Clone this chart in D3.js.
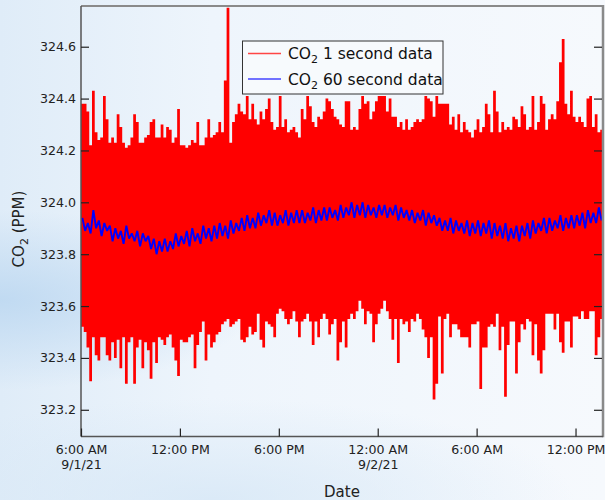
<!DOCTYPE html>
<html><head><meta charset="utf-8">
<script src="https://cdn.jsdelivr.net/npm/d3@7"></script>
<style>html,body{margin:0;padding:0;}svg{display:block;}</style>
</head><body>
<script>
// ---- data (10-minute bins from 6:00 AM 9/1/21) ----
const startTime = new Date(2021, 8, 1, 6, 0);
const endTime = new Date(2021, 8, 2, 13, 40);
const binMinutes = 10;
// max of 1-second data in each bin
const oneSecMax = [
324.38,324.38,324.35,324.22,324.43,324.27,324.24,324.25,324.41,324.32,
324.23,324.25,324.23,324.34,324.29,324.23,324.21,324.22,324.25,324.34,
324.31,324.23,324.23,324.25,324.26,324.31,324.32,324.25,324.25,324.30,
324.25,324.29,324.28,324.23,324.25,324.36,324.22,324.22,324.21,324.22,
324.24,324.23,324.31,324.22,324.22,324.25,324.32,324.25,324.26,324.27,
324.31,324.27,324.47,324.75,324.23,324.31,324.34,324.38,324.35,324.34,
324.41,324.32,324.38,324.32,324.30,324.35,324.32,324.36,324.40,324.31,
324.28,324.29,324.41,324.29,324.32,324.27,324.28,324.29,324.27,324.25,
324.36,324.32,324.41,324.37,324.31,324.29,324.33,324.32,324.35,324.40,
324.39,324.36,324.33,324.32,324.30,324.29,324.39,324.39,324.28,324.29,
324.28,324.36,324.41,324.38,324.39,324.32,324.35,324.39,324.41,324.41,
324.41,324.35,324.40,324.33,324.33,324.29,324.31,324.28,324.32,324.28,
324.29,324.31,324.32,324.31,324.32,324.41,324.40,324.39,324.33,324.41,
324.38,324.38,324.38,324.38,324.30,324.33,324.28,324.34,324.27,324.31,
324.28,324.27,324.25,324.28,324.32,324.27,324.29,324.38,324.34,324.27,
324.43,324.35,324.27,324.31,324.28,324.29,324.28,324.33,324.32,324.29,
324.37,324.34,324.28,324.29,324.41,324.28,324.31,324.41,324.38,324.28,
324.32,324.34,324.32,324.39,324.54,324.63,324.38,324.34,324.43,324.33,
324.31,324.33,324.31,324.29,324.40,324.41,324.29,324.34,324.27,324.28];
// min of 1-second data in each bin
const oneSecMin = [
323.52,323.50,323.44,323.31,323.48,323.41,323.39,323.48,323.48,323.41,
323.39,323.46,323.40,323.47,323.36,323.48,323.30,323.46,323.48,323.30,
323.44,323.47,323.36,323.46,323.43,323.32,323.46,323.38,323.48,323.47,
323.45,323.48,323.49,323.44,323.39,323.33,323.47,323.46,323.46,323.48,
323.49,323.36,323.45,323.50,323.54,323.39,323.49,323.44,323.46,323.49,
323.50,323.53,323.54,323.55,323.52,323.53,323.54,323.55,323.47,323.46,
323.48,323.52,323.49,323.50,323.57,323.47,323.44,323.54,323.53,323.52,
323.48,323.57,323.59,323.58,323.55,323.53,323.55,323.58,323.54,323.48,
323.54,323.55,323.57,323.54,323.45,323.54,323.48,323.55,323.57,323.55,
323.49,323.53,323.55,323.39,323.46,323.54,323.44,323.55,323.57,323.55,
323.58,323.62,323.59,323.53,323.58,323.57,323.46,323.53,323.57,323.59,
323.62,323.58,323.55,323.47,323.55,323.38,323.55,323.53,323.54,323.50,
323.55,323.54,323.57,323.55,323.51,323.48,323.40,323.48,323.24,323.30,
323.56,323.34,323.55,323.57,323.48,323.53,323.53,323.51,323.48,323.48,
323.48,323.44,323.53,323.53,323.54,323.28,323.44,323.44,323.52,323.53,
323.52,323.57,323.43,323.52,323.25,323.45,323.54,323.54,323.34,323.46,
323.53,323.51,323.55,323.54,323.41,323.53,323.39,323.34,323.43,323.57,
323.57,323.57,323.51,323.57,323.46,323.42,323.54,323.54,323.44,323.56,
323.56,323.55,323.58,323.55,323.55,323.58,323.58,323.41,323.48,323.55];
// 60-second data, sampled per bin
const sixtySec = [
323.94,323.89,323.92,323.88,323.97,323.90,323.93,323.87,323.92,323.89,
323.91,323.85,323.90,323.86,323.89,323.84,323.91,323.86,323.88,323.85,
323.89,323.83,323.88,323.85,323.87,323.82,323.86,323.80,323.85,323.81,
323.86,323.81,323.85,323.82,323.88,323.83,323.87,323.84,323.89,323.83,
323.90,323.85,323.88,323.84,323.91,323.86,323.90,323.85,323.91,323.86,
323.92,323.87,323.91,323.86,323.93,323.88,323.92,323.89,323.94,323.89,
323.95,323.90,323.94,323.90,323.96,323.91,323.95,323.92,323.97,323.91,
323.96,323.91,323.95,323.92,323.97,323.91,323.96,323.92,323.97,323.92,
323.97,323.92,323.96,323.93,323.98,323.92,323.97,323.93,323.98,323.93,
323.98,323.94,323.97,323.93,323.99,323.94,323.98,323.95,324.00,323.94,
323.99,323.95,324.00,323.94,323.99,323.95,323.98,323.94,323.99,323.95,
323.99,323.94,323.98,323.95,323.99,323.93,323.98,323.94,323.97,323.93,
323.97,323.92,323.96,323.93,323.97,323.91,323.96,323.92,323.95,323.91,
323.94,323.89,323.93,323.89,323.94,323.88,323.93,323.89,323.92,323.88,
323.93,323.87,323.92,323.88,323.93,323.87,323.92,323.88,323.93,323.86,
323.92,323.87,323.91,323.86,323.92,323.85,323.90,323.86,323.91,323.85,
323.91,323.87,323.92,323.86,323.93,323.88,323.92,323.89,323.94,323.88,
323.94,323.89,323.93,323.90,323.95,323.89,323.94,323.90,323.95,323.90,
323.95,323.91,323.96,323.90,323.97,323.92,323.96,323.92,323.98,323.93];
const yTicks = [323.2, 323.4, 323.6, 323.8, 324.0, 324.2, 324.4, 324.6];
const xTickTimes = [new Date(2021,8,1,6), new Date(2021,8,1,12), new Date(2021,8,1,18),
                    new Date(2021,8,2,0), new Date(2021,8,2,6), new Date(2021,8,2,12)];
const xTickLabels = [["6:00 AM","9/1/21"],["12:00 PM"],["6:00 PM"],["12:00 AM","9/2/21"],["6:00 AM"],["12:00 PM"]];
const legendLabels = [["CO","2"," 1 second data"],["CO","2"," 60 second data"]];
const seriesColors = ["#ff0000","#0000ff"];

// ---- layout ----
const W = 605, H = 500;
const L = 81, R = 603, T = 6, B = 436.5;
const font = "'DejaVu Sans', Verdana, sans-serif";

const svg = d3.select("body").append("svg").attr("width", W).attr("height", H);
const defs = svg.append("defs");
const lg = defs.append("linearGradient").attr("id","bgH").attr("x1","0").attr("x2","1").attr("y1","0").attr("y2","0");
lg.append("stop").attr("offset","0").attr("stop-color","#dfecf8");
lg.append("stop").attr("offset","0.35").attr("stop-color","#eef5fc");
lg.append("stop").attr("offset","1").attr("stop-color","#f6f9fd");
const rg = defs.append("radialGradient").attr("id","bgR");
rg.append("stop").attr("offset","0").attr("stop-color","#bdd8f1").attr("stop-opacity",0.9);
rg.append("stop").attr("offset","1").attr("stop-color","#bdd8f1").attr("stop-opacity",0);
const rg2 = defs.append("radialGradient").attr("id","bgR2").attr("cx","0.35").attr("cy","1").attr("r","0.6");
rg2.append("stop").attr("offset","0").attr("stop-color","#d6e7f6").attr("stop-opacity",0.8);
rg2.append("stop").attr("offset","1").attr("stop-color","#d6e7f6").attr("stop-opacity",0);
svg.append("rect").attr("width",W).attr("height",H).attr("fill","url(#bgH)");
svg.append("ellipse").attr("cx",0).attr("cy",300).attr("rx",260).attr("ry",90).attr("fill","url(#bgR)");
svg.append("rect").attr("x",0).attr("y",330).attr("width",W).attr("height",170).attr("fill","url(#bgR2)");

defs.append("clipPath").attr("id","plotClip").append("rect")
  .attr("x",L).attr("y",T).attr("width",R-L).attr("height",B-T);

const x = d3.scaleTime().domain([startTime, endTime]).range([L, R]);
const y = d3.scaleLinear().domain([323.097, 324.757]).range([B, T]);

const binTime = i => new Date(startTime.getTime() + i*binMinutes*60000);
const bins = oneSecMax.map((hi,i) => ({t: binTime(i), hi, lo: oneSecMin[i]}));
bins.push({t: endTime, hi: oneSecMax[oneSecMax.length-1], lo: oneSecMin[oneSecMin.length-1]});

const g = svg.append("g").attr("clip-path","url(#plotClip)");
g.append("path").datum(bins)
  .attr("d", d3.area().curve(d3.curveStepAfter).x(d=>x(d.t)).y0(d=>y(d.lo)).y1(d=>y(d.hi)))
  .attr("fill", seriesColors[0]);

const blue = sixtySec.map((v,i) => ({t: new Date(startTime.getTime() + (i+0.5)*binMinutes*60000), v}));
g.append("path").datum(blue)
  .attr("d", d3.line().x(d=>x(d.t)).y(d=>y(d.v)))
  .attr("fill","none").attr("stroke", seriesColors[1]).attr("stroke-width",1.9).attr("stroke-linejoin","bevel");

// ---- frame ----
svg.append("line").attr("x1",L).attr("x2",R+1).attr("y1",T).attr("y2",T).attr("stroke","#8a8a8a").attr("stroke-width",2);
svg.append("line").attr("x1",R).attr("x2",R).attr("y1",T-1).attr("y2",B+0.75).attr("stroke","#8a8a8a").attr("stroke-width",2.5);

// y axis left
const yAxis = svg.append("g").attr("transform",`translate(${L},0)`)
  .call(d3.axisLeft(y).tickValues(yTicks).tickFormat(d3.format(".1f")).tickSize(-8).tickSizeOuter(0).tickPadding(5));
yAxis.select(".domain").attr("stroke","#555").attr("stroke-width",1.5).attr("d",`M0,${T}V${B}`);
yAxis.selectAll(".tick line").attr("stroke","#222").attr("stroke-width",1.2);
yAxis.selectAll("text").attr("font-family",font).attr("font-size","12.6px").attr("fill","#222");

// y axis right (ticks only)
const yAxisR = svg.append("g").attr("transform",`translate(${R-1},0)`)
  .call(d3.axisRight(y).tickValues(yTicks).tickFormat("").tickSize(-8).tickSizeOuter(0));
yAxisR.select(".domain").remove();
yAxisR.selectAll(".tick line").attr("stroke","#222").attr("stroke-width",1.2);

// x axis
const xAxis = svg.append("g").attr("transform",`translate(0,${B})`)
  .call(d3.axisBottom(x).tickValues(xTickTimes).tickFormat("").tickSize(-8).tickSizeOuter(0));
xAxis.select(".domain").attr("stroke","#555").attr("stroke-width",1.5).attr("d",`M${L},0H${R}`);
xAxis.selectAll(".tick line").attr("stroke","#222").attr("stroke-width",1.2);
xAxis.selectAll(".tick").each(function(d,i){
  const t = d3.select(this).append("text").attr("font-family",font).attr("font-size","12.6px")
    .attr("fill","#222").attr("text-anchor","middle");
  xTickLabels[i].forEach((s,k)=>{
    t.append("tspan").attr("x",0).attr("y",17.5 + k*15).text(s);
  });
});

// axis titles
const yt = svg.append("text").attr("transform","translate(24,229) rotate(-90)")
  .attr("text-anchor","middle").attr("font-family",font).attr("font-size","15px").attr("fill","#222");
yt.append("tspan").text("CO");
yt.append("tspan").attr("font-size","11px").attr("dy",4).text("2");
yt.append("tspan").attr("dy",-4).text(" (PPM)");
svg.append("text").attr("x",342).attr("y",497).attr("text-anchor","middle")
  .attr("font-family",font).attr("font-size","15px").attr("fill","#222").text("Date");

// legend
const leg = svg.append("g");
leg.append("rect").attr("x",242.5).attr("y",41).attr("width",200.5).attr("height",53)
  .attr("fill","#f7fafd").attr("stroke","#333").attr("stroke-width",1);
legendLabels.forEach((lab,i)=>{
  const yy = 53.5 + i*25.5;
  leg.append("line").attr("x1",248).attr("x2",281).attr("y1",yy).attr("y2",yy)
    .attr("stroke", i===0 ? "#ff4545" : "#4545ff").attr("stroke-width",1.3);
  const t = leg.append("text").attr("x",288).attr("y",yy+5.8).attr("font-family",font)
    .attr("font-size","15.5px").attr("fill","#111");
  t.append("tspan").text(lab[0]);
  t.append("tspan").attr("font-size","11px").attr("dy",4).text(lab[1]);
  t.append("tspan").attr("dy",-4).text(lab[2]);
});
</script>
</body></html>
